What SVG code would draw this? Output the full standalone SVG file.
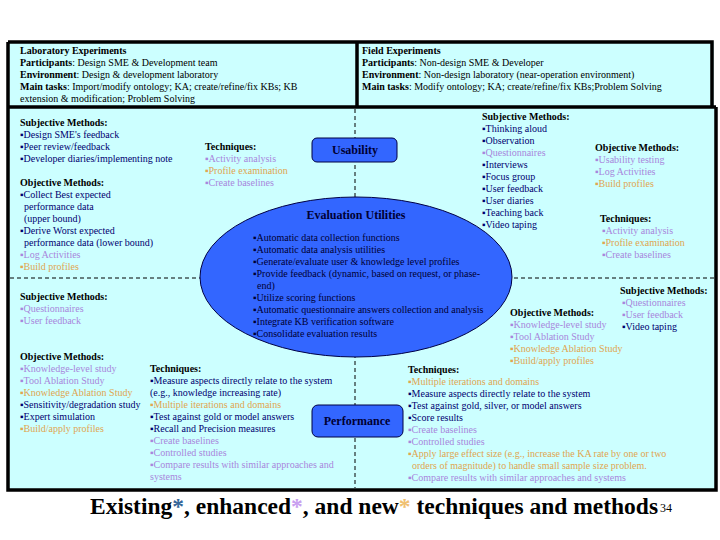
<svg xmlns="http://www.w3.org/2000/svg" width="720" height="540" viewBox="0 0 720 540">
<style>
text{font-family:"Liberation Serif","Times New Roman",serif;font-size:10px}
.h{font-weight:bold;fill:#000}
.n{fill:#000070}
.d{fill:#000033}
.p{fill:#A886DC}
.o{fill:#E0A550}
.k{fill:#000}
.dash{stroke:#000;stroke-width:1;stroke-dasharray:4,3;fill:none}
.node{fill:#3366FF;stroke:#000044;stroke-width:1}
.lbl{font-weight:bold;fill:#000033;font-size:12px;text-anchor:middle}
</style>
<rect x="0" y="0" width="720" height="540" fill="#fff"/>
<g id="frame">
<rect x="8" y="42" width="706" height="448" fill="#CCFFFF"/>
<rect x="712" y="107" width="4" height="383" fill="#CCFFFF"/>
<path d="M8,42 H712 V107 M8,42 V490 H716 V107 M357,42 V107 M8,107 H716" fill="none" stroke="#000" stroke-width="3.5"/>
</g>
<g id="connectors">
<line class="dash" x1="355" y1="109" x2="355" y2="488"/>
<line class="dash" x1="10" y1="278" x2="714" y2="278"/>
</g>
<g id="lab-box">
<text x="20" y="54"><tspan class="h">Laboratory Experiments</tspan></text>
<text x="20" y="66" class="k"><tspan class="h">Participants</tspan>: Design SME &amp; Development team</text>
<text x="20" y="78" class="k"><tspan class="h">Environment</tspan>: Design &amp; development laboratory</text>
<text x="20" y="90" class="k"><tspan class="h">Main tasks</tspan>: Import/modify ontology; KA; create/refine/fix KBs; KB</text>
<text x="20" y="102" class="k">extension &amp; modification; Problem Solving</text>
</g>
<g id="field-box">
<text x="362" y="54"><tspan class="h">Field Experiments</tspan></text>
<text x="362" y="66" class="k"><tspan class="h">Participants</tspan>: Non-design SME &amp; Developer</text>
<text x="362" y="78" class="k"><tspan class="h">Environment</tspan>: Non-design laboratory (near-operation environment)</text>
<text x="362" y="90" class="k"><tspan class="h">Main tasks</tspan>: Modify ontology; KA; create/refine/fix KBs;Problem Solving</text>
</g>
<g id="evaluation-utilities">
<ellipse class="node" cx="356" cy="277" rx="156" ry="80"/>
<text x="356" y="219" class="lbl">Evaluation Utilities</text>
<text x="253" y="241" class="d">▪Automatic data collection functions</text>
<text x="253" y="253" class="d">▪Automatic data analysis utilities</text>
<text x="253" y="265" class="d">▪Generate/evaluate user &amp; knowledge level profiles</text>
<text x="253" y="277" class="d">▪Provide feedback (dynamic, based on request, or phase-</text>
<text x="257" y="289" class="d">end)</text>
<text x="253" y="301" class="d">▪Utilize scoring functions</text>
<text x="253" y="313" class="d">▪Automatic questionnaire answers collection and analysis</text>
<text x="253" y="325" class="d">▪Integrate KB verification software</text>
<text x="253" y="337" class="d">▪Consolidate evaluation results</text>
</g>
<g id="usability">
<rect class="node" x="312" y="138" width="85" height="24" rx="5"/>
<text x="355" y="154" class="lbl">Usability</text>
</g>
<g id="performance">
<rect class="node" x="312" y="405" width="91" height="32" rx="6"/>
<text x="357" y="425" class="lbl">Performance</text>
</g>
<g id="lab-usability">
<text x="20" y="126" class="h">Subjective Methods:</text>
<text x="20" y="138" class="n">▪Design SME's feedback</text>
<text x="20" y="150" class="n">▪Peer review/feedback</text>
<text x="20" y="162" class="n">▪Developer diaries/implementing note</text>
<text x="20" y="186" class="h">Objective Methods:</text>
<text x="20" y="198" class="n">▪Collect Best expected</text>
<text x="24" y="210" class="n">performance data</text>
<text x="24" y="222" class="n">(upper bound)</text>
<text x="20" y="234" class="n">▪Derive Worst expected</text>
<text x="24" y="246" class="n">performance data (lower bound)</text>
<text x="20" y="258" class="p">▪Log Activities</text>
<text x="20" y="270" class="o">▪Build profiles</text>
<text x="205" y="150" class="h">Techniques:</text>
<text x="205" y="162" class="p">▪Activity analysis</text>
<text x="205" y="174" class="o">▪Profile examination</text>
<text x="205" y="186" class="p">▪Create baselines</text>
</g>
<g id="field-usability">
<text x="482" y="120" class="h">Subjective Methods:</text>
<text x="482" y="132" class="n">▪Thinking aloud</text>
<text x="482" y="144" class="n">▪Observation</text>
<text x="482" y="156" class="p">▪Questionnaires</text>
<text x="482" y="168" class="n">▪Interviews</text>
<text x="482" y="180" class="n">▪Focus group</text>
<text x="482" y="192" class="n">▪User feedback</text>
<text x="482" y="204" class="n">▪User diaries</text>
<text x="482" y="216" class="n">▪Teaching back</text>
<text x="482" y="228" class="n">▪Video taping</text>
<text x="595" y="151" class="h">Objective Methods:</text>
<text x="595" y="163" class="p">▪Usability testing</text>
<text x="595" y="175" class="p">▪Log Activities</text>
<text x="595" y="187" class="o">▪Build profiles</text>
<text x="600" y="222" class="h">Techniques:</text>
<text x="602" y="234" class="p">▪Activity analysis</text>
<text x="602" y="246" class="o">▪Profile examination</text>
<text x="602" y="258" class="p">▪Create baselines</text>
</g>
<g id="lab-performance">
<text x="20" y="300" class="h">Subjective Methods:</text>
<text x="20" y="312" class="p">▪Questionnaires</text>
<text x="20" y="324" class="p">▪User feedback</text>
<text x="20" y="360" class="h">Objective Methods:</text>
<text x="20" y="372" class="p">▪Knowledge-level study</text>
<text x="20" y="384" class="p">▪Tool Ablation Study</text>
<text x="20" y="396" class="o">▪Knowledge Ablation Study</text>
<text x="20" y="408" class="n">▪Sensitivity/degradation study</text>
<text x="20" y="420" class="n">▪Expert simulation</text>
<text x="20" y="432" class="o">▪Build/apply profiles</text>
<text x="150" y="372" class="h">Techniques:</text>
<text x="150" y="384" class="n">▪Measure aspects directly relate to the system</text>
<text x="150" y="396" class="n">(e.g., knowledge increasing rate)</text>
<text x="150" y="408" class="o">▪Multiple iterations and domains</text>
<text x="150" y="420" class="n">▪Test against gold or model answers</text>
<text x="150" y="432" class="n">▪Recall and Precision measures</text>
<text x="150" y="444" class="p">▪Create baselines</text>
<text x="150" y="456" class="p">▪Controlled studies</text>
<text x="150" y="468" class="p">▪Compare results with similar approaches and</text>
<text x="150" y="480" class="p">systems</text>
</g>
<g id="field-performance">
<text x="620" y="294" class="h">Subjective Methods:</text>
<text x="622" y="306" class="p">▪Questionnaires</text>
<text x="622" y="318" class="p">▪User feedback</text>
<text x="622" y="330" class="n">▪Video taping</text>
<text x="510" y="316" class="h">Objective Methods:</text>
<text x="510" y="328" class="p">▪Knowledge-level study</text>
<text x="510" y="340" class="p">▪Tool Ablation Study</text>
<text x="510" y="352" class="o">▪Knowledge Ablation Study</text>
<text x="510" y="364" class="o">▪Build/apply profiles</text>
<text x="408" y="373" class="h">Techniques:</text>
<text x="408" y="385" class="o">▪Multiple iterations and domains</text>
<text x="408" y="397" class="n">▪Measure aspects directly relate to the system</text>
<text x="408" y="409" class="n">▪Test against gold, silver, or model answers</text>
<text x="408" y="421" class="n">▪Score results</text>
<text x="408" y="433" class="p">▪Create baselines</text>
<text x="408" y="445" class="p">▪Controlled studies</text>
<text x="408" y="457" class="o">▪Apply large effect size (e.g., increase the KA rate by one or two</text>
<text x="412" y="469" class="o">orders of magnitude) to handle small sample size problem.</text>
<text x="408" y="481" class="p">▪Compare results with similar approaches and systems</text>
</g>
<g id="title">
<text x="90" y="514" style="font-size:23.5px;font-weight:bold" fill="#000">Existing<tspan fill="#336699">*</tspan>, enhanced<tspan fill="#C8A0F0">*</tspan>, and new<tspan fill="#F0C070">*</tspan> techniques and methods</text>
<text x="660" y="512" style="font-size:12px" fill="#000">34</text>
</g>
</svg>
